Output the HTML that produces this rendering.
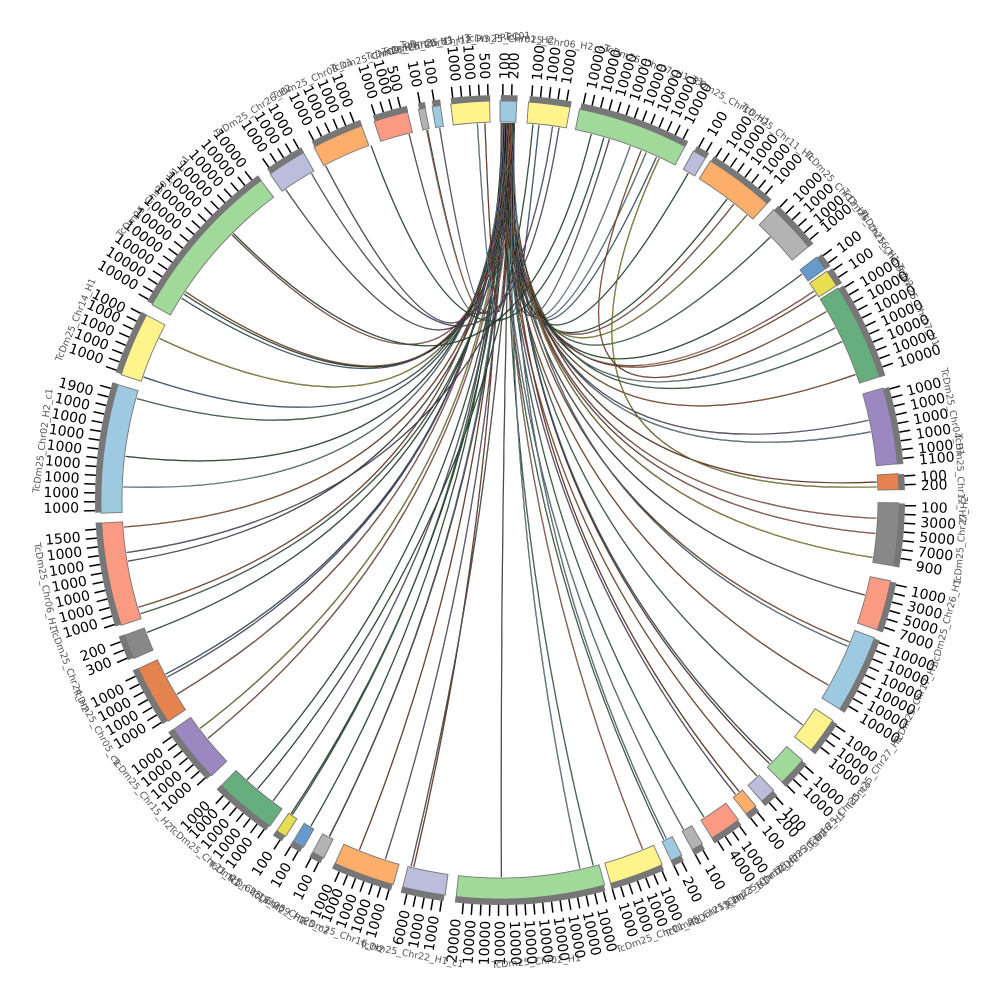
<!DOCTYPE html>
<html><head><meta charset="utf-8">
<style>
html,body{margin:0;padding:0;background:#fff;}
svg{display:block;}
.t{font-family:"DejaVu Sans","Liberation Sans",sans-serif;font-size:14px;fill:#000;}
.n{font-family:"DejaVu Sans","Liberation Sans",sans-serif;font-size:9.5px;fill:#555;}
</style></head>
<body>
<svg id="s" width="1000" height="1000" viewBox="0 0 1000 1000" xmlns="http://www.w3.org/2000/svg">
<g id="links"></g>
<g id="segs"></g>
<g id="ticks" stroke="#000" stroke-width="1.5"></g>
<g class="t">
<text transform="rotate(-89.4 500 500)" x="921" y="505">100</text>
<text transform="rotate(-88.2 500 500)" x="921" y="505">200</text>
<text transform="rotate(-85 500 500)" x="921" y="505">1000</text>
<text transform="rotate(-83 500 500)" x="921" y="505">1000</text>
<text transform="rotate(-81 500 500)" x="921" y="505">1000</text>
<text transform="rotate(-77.5 500 500)" x="921" y="505">10000</text>
<text transform="rotate(-75.5 500 500)" x="921" y="505">10000</text>
<text transform="rotate(-73.5 500 500)" x="921" y="505">10000</text>
<text transform="rotate(-71.5 500 500)" x="921" y="505">10000</text>
<text transform="rotate(-69.5 500 500)" x="921" y="505">10000</text>
<text transform="rotate(-67.5 500 500)" x="921" y="505">10000</text>
<text transform="rotate(-65.5 500 500)" x="921" y="505">10000</text>
<text transform="rotate(-63.5 500 500)" x="921" y="505">10000</text>
<text transform="rotate(-60 500 500)" x="921" y="505">100</text>
<text transform="rotate(-57 500 500)" x="921" y="505">1000</text>
<text transform="rotate(-55 500 500)" x="921" y="505">1000</text>
<text transform="rotate(-53 500 500)" x="921" y="505">1000</text>
<text transform="rotate(-51 500 500)" x="921" y="505">1000</text>
<text transform="rotate(-49 500 500)" x="921" y="505">1000</text>
<text transform="rotate(-45.5 500 500)" x="921" y="505">1000</text>
<text transform="rotate(-43.5 500 500)" x="921" y="505">1000</text>
<text transform="rotate(-41.5 500 500)" x="921" y="505">1000</text>
<text transform="rotate(-40 500 500)" x="921" y="505">1000</text>
<text transform="rotate(-36.5 500 500)" x="921" y="505">100</text>
<text transform="rotate(-33.8 500 500)" x="921" y="505">100</text>
<text transform="rotate(-31 500 500)" x="921" y="505">10000</text>
<text transform="rotate(-29 500 500)" x="921" y="505">10000</text>
<text transform="rotate(-27 500 500)" x="921" y="505">10000</text>
<text transform="rotate(-25 500 500)" x="921" y="505">10000</text>
<text transform="rotate(-23 500 500)" x="921" y="505">10000</text>
<text transform="rotate(-21 500 500)" x="921" y="505">10000</text>
<text transform="rotate(-19 500 500)" x="921" y="505">10000</text>
<text transform="rotate(-15 500 500)" x="921" y="505">1000</text>
<text transform="rotate(-13 500 500)" x="921" y="505">1000</text>
<text transform="rotate(-11 500 500)" x="921" y="505">1000</text>
<text transform="rotate(-9 500 500)" x="921" y="505">1000</text>
<text transform="rotate(-7 500 500)" x="921" y="505">1000</text>
<text transform="rotate(-5.5 500 500)" x="921" y="505">1100</text>
<text transform="rotate(-3.2 500 500)" x="921" y="505">100</text>
<text transform="rotate(-2 500 500)" x="921" y="505">200</text>
<text transform="rotate(1 500 500)" x="921" y="505">100</text>
<text transform="rotate(3 500 500)" x="921" y="505">3000</text>
<text transform="rotate(5 500 500)" x="921" y="505">5000</text>
<text transform="rotate(7 500 500)" x="921" y="505">7000</text>
<text transform="rotate(9 500 500)" x="921" y="505">900</text>
<text transform="rotate(12.5 500 500)" x="921" y="505">1000</text>
<text transform="rotate(14.5 500 500)" x="921" y="505">3000</text>
<text transform="rotate(16.5 500 500)" x="921" y="505">5000</text>
<text transform="rotate(18.5 500 500)" x="921" y="505">7000</text>
<text transform="rotate(21 500 500)" x="921" y="505">10000</text>
<text transform="rotate(23 500 500)" x="921" y="505">10000</text>
<text transform="rotate(25 500 500)" x="921" y="505">10000</text>
<text transform="rotate(27 500 500)" x="921" y="505">10000</text>
<text transform="rotate(29 500 500)" x="921" y="505">10000</text>
<text transform="rotate(31 500 500)" x="921" y="505">10000</text>
<text transform="rotate(34.5 500 500)" x="921" y="505">1000</text>
<text transform="rotate(36.5 500 500)" x="921" y="505">1000</text>
<text transform="rotate(38.3 500 500)" x="921" y="505">1000</text>
<text transform="rotate(41.5 500 500)" x="921" y="505">1000</text>
<text transform="rotate(43.5 500 500)" x="921" y="505">1000</text>
<text transform="rotate(47.3 500 500)" x="921" y="505">100</text>
<text transform="rotate(48.5 500 500)" x="921" y="505">200</text>
<text transform="rotate(51 500 500)" x="921" y="505">100</text>
<text transform="rotate(54.5 500 500)" x="921" y="505">1000</text>
<text transform="rotate(56.5 500 500)" x="921" y="505">4000</text>
<text transform="rotate(60.3 500 500)" x="921" y="505">100</text>
<text transform="rotate(63.7 500 500)" x="921" y="505">200</text>
<text transform="rotate(67 500 500)" x="921" y="505">1000</text>
<text transform="rotate(69 500 500)" x="921" y="505">1000</text>
<text transform="rotate(71 500 500)" x="921" y="505">1000</text>
<text transform="rotate(73 500 500)" x="921" y="505">1000</text>
<text transform="rotate(76 500 500)" x="921" y="505">10000</text>
<text transform="rotate(78 500 500)" x="921" y="505">10000</text>
<text transform="rotate(80 500 500)" x="921" y="505">10000</text>
<text transform="rotate(82 500 500)" x="921" y="505">10000</text>
<text transform="rotate(84 500 500)" x="921" y="505">10000</text>
<text transform="rotate(86 500 500)" x="921" y="505">10000</text>
<text transform="rotate(88 500 500)" x="921" y="505">10000</text>
</g>
<g class="t" text-anchor="end">
<text transform="rotate(270 500 500)" x="79" y="505">10000</text>
<text transform="rotate(272 500 500)" x="79" y="505">10000</text>
<text transform="rotate(274 500 500)" x="79" y="505">10000</text>
<text transform="rotate(276 500 500)" x="79" y="505">20000</text>
<text transform="rotate(279 500 500)" x="79" y="505">1000</text>
<text transform="rotate(281 500 500)" x="79" y="505">1000</text>
<text transform="rotate(283 500 500)" x="79" y="505">6000</text>
<text transform="rotate(286.5 500 500)" x="79" y="505">1000</text>
<text transform="rotate(288.5 500 500)" x="79" y="505">1000</text>
<text transform="rotate(290.5 500 500)" x="79" y="505">1000</text>
<text transform="rotate(292.5 500 500)" x="79" y="505">1000</text>
<text transform="rotate(294 500 500)" x="79" y="505">1000</text>
<text transform="rotate(297 500 500)" x="79" y="505">100</text>
<text transform="rotate(300.3 500 500)" x="79" y="505">100</text>
<text transform="rotate(303.2 500 500)" x="79" y="505">100</text>
<text transform="rotate(306.5 500 500)" x="79" y="505">1000</text>
<text transform="rotate(308.5 500 500)" x="79" y="505">1000</text>
<text transform="rotate(310.5 500 500)" x="79" y="505">1000</text>
<text transform="rotate(312.5 500 500)" x="79" y="505">1000</text>
<text transform="rotate(314 500 500)" x="79" y="505">1000</text>
<text transform="rotate(317.5 500 500)" x="79" y="505">1000</text>
<text transform="rotate(319.5 500 500)" x="79" y="505">1000</text>
<text transform="rotate(321.5 500 500)" x="79" y="505">1000</text>
<text transform="rotate(323.5 500 500)" x="79" y="505">1000</text>
<text transform="rotate(327.5 500 500)" x="79" y="505">1000</text>
<text transform="rotate(329.5 500 500)" x="79" y="505">1000</text>
<text transform="rotate(331.5 500 500)" x="79" y="505">1000</text>
<text transform="rotate(333.5 500 500)" x="79" y="505">1000</text>
<text transform="rotate(337.5 500 500)" x="79" y="505">300</text>
<text transform="rotate(339.5 500 500)" x="79" y="505">200</text>
<text transform="rotate(343 500 500)" x="79" y="505">1000</text>
<text transform="rotate(345 500 500)" x="79" y="505">1000</text>
<text transform="rotate(347 500 500)" x="79" y="505">1000</text>
<text transform="rotate(349 500 500)" x="79" y="505">1000</text>
<text transform="rotate(351 500 500)" x="79" y="505">1000</text>
<text transform="rotate(353 500 500)" x="79" y="505">1000</text>
<text transform="rotate(355 500 500)" x="79" y="505">1500</text>
<text transform="rotate(359 500 500)" x="79" y="505">1000</text>
<text transform="rotate(361 500 500)" x="79" y="505">1000</text>
<text transform="rotate(363 500 500)" x="79" y="505">1000</text>
<text transform="rotate(365 500 500)" x="79" y="505">1000</text>
<text transform="rotate(367 500 500)" x="79" y="505">1000</text>
<text transform="rotate(369 500 500)" x="79" y="505">1000</text>
<text transform="rotate(371 500 500)" x="79" y="505">1000</text>
<text transform="rotate(373 500 500)" x="79" y="505">1000</text>
<text transform="rotate(375 500 500)" x="79" y="505">1900</text>
<text transform="rotate(379.5 500 500)" x="79" y="505">1000</text>
<text transform="rotate(381.5 500 500)" x="79" y="505">1000</text>
<text transform="rotate(383.5 500 500)" x="79" y="505">1000</text>
<text transform="rotate(385.5 500 500)" x="79" y="505">1000</text>
<text transform="rotate(387 500 500)" x="79" y="505">1000</text>
<text transform="rotate(390.5 500 500)" x="79" y="505">10000</text>
<text transform="rotate(392.5 500 500)" x="79" y="505">10000</text>
<text transform="rotate(394.5 500 500)" x="79" y="505">10000</text>
<text transform="rotate(396.5 500 500)" x="79" y="505">10000</text>
<text transform="rotate(398.5 500 500)" x="79" y="505">10000</text>
<text transform="rotate(400.5 500 500)" x="79" y="505">10000</text>
<text transform="rotate(402.5 500 500)" x="79" y="505">10000</text>
<text transform="rotate(404.5 500 500)" x="79" y="505">10000</text>
<text transform="rotate(406.5 500 500)" x="79" y="505">10000</text>
<text transform="rotate(408.5 500 500)" x="79" y="505">10000</text>
<text transform="rotate(410.5 500 500)" x="79" y="505">10000</text>
<text transform="rotate(412.5 500 500)" x="79" y="505">10000</text>
<text transform="rotate(416 500 500)" x="79" y="505">1000</text>
<text transform="rotate(418 500 500)" x="79" y="505">1000</text>
<text transform="rotate(420 500 500)" x="79" y="505">1000</text>
<text transform="rotate(423 500 500)" x="79" y="505">1000</text>
<text transform="rotate(425 500 500)" x="79" y="505">1000</text>
<text transform="rotate(427 500 500)" x="79" y="505">1000</text>
<text transform="rotate(429 500 500)" x="79" y="505">1000</text>
<text transform="rotate(432.5 500 500)" x="79" y="505">1000</text>
<text transform="rotate(434.5 500 500)" x="79" y="505">1000</text>
<text transform="rotate(436 500 500)" x="79" y="505">500</text>
<text transform="rotate(438.7 500 500)" x="79" y="505">100</text>
<text transform="rotate(440.8 500 500)" x="79" y="505">100</text>
<text transform="rotate(444 500 500)" x="79" y="505">1000</text>
<text transform="rotate(446 500 500)" x="79" y="505">1000</text>
<text transform="rotate(448 500 500)" x="79" y="505">500</text>
</g>
<g class="n" text-anchor="middle">
<text transform="rotate(1.2 500 500)" x="500" y="42">TcDm25_Chr01_H2</text>
<text transform="rotate(7.1 500 500)" x="500" y="42">TcDm25_Chr06_H2_c3</text>
<text transform="rotate(19.5 500 500)" x="500" y="42">TcDm25_Chr07_H1_c1</text>
<text transform="rotate(30 500 500)" x="500" y="42">TcDm25_Chr10_H1</text>
<text transform="rotate(37 500 500)" x="500" y="42">TcDm25_Chr11_H1</text>
<text transform="rotate(47 500 500)" x="500" y="42">TcDm25_Chr12_H1</text>
<text transform="rotate(53.5 500 500)" x="500" y="42">TcDm25_Chr16_H1</text>
<text transform="rotate(57 500 500)" x="500" y="42">TcDm25_Chr19_H2</text>
<text transform="rotate(65 500 500)" x="500" y="42">TcDm25_Chr07_H1</text>
<text transform="rotate(79 500 500)" x="500" y="42">TcDm25_Chr04_H1</text>
<text transform="rotate(87.3 500 500)" x="500" y="42">TcDm25_Chr12_H2</text>
<text transform="rotate(-85 500 500)" x="500" y="966">TcDm25_Chr27_H2</text>
<text transform="rotate(-74.7 500 500)" x="500" y="966">TcDm25_Chr26_H1</text>
<text transform="rotate(-64 500 500)" x="500" y="966">TcDm25_Chr17_H1</text>
<text transform="rotate(-54 500 500)" x="500" y="966">TcDm25_Chr27_H1</text>
<text transform="rotate(-47.2 500 500)" x="500" y="966">TcDm25_Chr25_c3</text>
<text transform="rotate(-42.2 500 500)" x="500" y="966">TcDm25_Chr18_H1</text>
<text transform="rotate(-39 500 500)" x="500" y="966">TcDm25_Chr30_H2</text>
<text transform="rotate(-34.4 500 500)" x="500" y="966">TcDm25_Chr10_H2</text>
<text transform="rotate(-29.7 500 500)" x="500" y="966">TcDm25_Chr23_H1</text>
<text transform="rotate(-26.3 500 500)" x="500" y="966">TcDm25_Chr13_H1</text>
<text transform="rotate(-20 500 500)" x="500" y="966">TcDm25_Chr01_H1</text>
<text transform="rotate(-4.5 500 500)" x="500" y="966">TcDm25_Chr02_H1</text>
<text transform="rotate(11 500 500)" x="500" y="966">TcDm25_Chr22_H1_c1</text>
<text transform="rotate(20 500 500)" x="500" y="966">TcDm25_Chr16_H2</text>
<text transform="rotate(27 500 500)" x="500" y="966">TcDm25_Chr25_c2</text>
<text transform="rotate(30.3 500 500)" x="500" y="966">TcDm25_Chr09_H2</text>
<text transform="rotate(33.2 500 500)" x="500" y="966">TcDm25_Chr13_H2</text>
<text transform="rotate(39.7 500 500)" x="500" y="966">TcDm25_Chr21_H1</text>
<text transform="rotate(50.6 500 500)" x="500" y="966">TcDm25_Chr15_H2</text>
<text transform="rotate(60.6 500 500)" x="500" y="966">TcDm25_Chr05_c1</text>
<text transform="rotate(68.4 500 500)" x="500" y="966">TcDm25_Chr24_H2</text>
<text transform="rotate(79.2 500 500)" x="500" y="966">TcDm25_Chr06_H1</text>
<text transform="rotate(-82.6 500 500)" x="500" y="42">TcDm25_Chr02_H2_c1</text>
<text transform="rotate(-67 500 500)" x="500" y="42">TcDm25_Chr14_H1</text>
<text transform="rotate(-48.8 500 500)" x="500" y="42">TcDm25_Chr30_H1_c1</text>
<text transform="rotate(-32.4 500 500)" x="500" y="42">TcDm25_Chr26_H2</text>
<text transform="rotate(-24 500 500)" x="500" y="42">TcDm25_Chr08_c1</text>
<text transform="rotate(-15.9 500 500)" x="500" y="42">TcDm25_Chr09_H1</text>
<text transform="rotate(-11.3 500 500)" x="500" y="42">TcDm25_Chr20_H1</text>
<text transform="rotate(-9.2 500 500)" x="500" y="42">TcDm25_Chr03_H3</text>
<text transform="rotate(-4.3 500 500)" x="500" y="42">TcDm25_Chr12_H3_PRFC01</text>
</g>
</svg>
<script>
(function(){
var NS="http://www.w3.org/2000/svg",cx=500,cy=500;
function P(a,r){var t=a*Math.PI/180;return [cx+r*Math.sin(t),cy-r*Math.cos(t)];}
function f(v){return v.toFixed(1);}
var S=[[0,2.4,"#9ecae1"],[4.1,10.1,"#fff48c"],[11.5,27.6,"#a1d99b"],[29,31,"#bcbddc"],[31.8,42,"#fdae6b"],[43.3,50.6,"#b3b3b3"],[52.5,54.6,"#6699cc"],[55,57.5,"#e8df50"],[57.9,72,"#66ae7d"],[73.7,84.8,"#9b88c0"],[86.2,88.5,"#e5834f"],[90.4,99.5,"#888888"],[101.7,109,"#fb9a82"],[110.2,121.6,"#9ecae1"],[123.5,128.8,"#fff48c"],[130.7,135,"#a1d99b"],[136.7,139,"#bcbddc"],[140.1,141.9,"#fdae6b"],[143.3,147.9,"#fb9a82"],[149.5,151.2,"#b3b3b3"],[152.9,154.6,"#9ecae1"],[156,163.9,"#fff48c"],[164.8,186.3,"#a1d99b"],[187.9,194.1,"#bcbddc"],[195.5,204.4,"#fdae6b"],[206.2,208,"#b3b3b3"],[209.5,211.2,"#6699cc"],[212.5,214,"#e8df50"],[215.2,224.3,"#66ae7d"],[226.3,234.9,"#9b88c0"],[236.3,245,"#e5834f"],[246.6,250.2,"#888888"],[251.7,266.7,"#fb9a82"],[268.1,286.8,"#9ecae1"],[288.3,297.6,"#fff48c"],[299.3,323.2,"#a1d99b"],[324.8,330.5,"#bcbddc"],[332.2,339.7,"#fdae6b"],[341.6,346.6,"#fb9a82"],[348.2,349.2,"#b3b3b3"],[350.2,351.4,"#9ecae1"],[352.9,358.5,"#fff48c"]];
function sector(a0,a1,r0,r1){var p1=P(a0,r1),p2=P(a1,r1),p3=P(a1,r0),p4=P(a0,r0),l=(a1-a0)>180?1:0;
return "M"+f(p1[0])+","+f(p1[1])+"A"+r1+","+r1+" 0 "+l+" 1 "+f(p2[0])+","+f(p2[1])+"L"+f(p3[0])+","+f(p3[1])+"A"+r0+","+r0+" 0 "+l+" 0 "+f(p4[0])+","+f(p4[1])+"Z";}
var segs=document.getElementById("segs"),ticks=document.getElementById("ticks"),links=document.getElementById("links");
S.forEach(function(s){
 var p=document.createElementNS(NS,"path");p.setAttribute("d",sector(s[0],s[1],378,399));p.setAttribute("fill",s[2]);p.setAttribute("stroke","#777");p.setAttribute("stroke-width","0.9");segs.appendChild(p);
 var g=document.createElementNS(NS,"path");g.setAttribute("d",sector(s[0]+0.1,s[1]+0.1,399,405));g.setAttribute("fill","#777");segs.appendChild(g);
 for(var a=s[0]+0.4;a<=s[1];a+=1.25){var q0=P(a,405),q1=P(a,416);var l=document.createElementNS(NS,"line");l.setAttribute("x1",f(q0[0]));l.setAttribute("y1",f(q0[1]));l.setAttribute("x2",f(q1[0]));l.setAttribute("y2",f(q1[1]));ticks.appendChild(l);}
});
var seed=7;function rnd(){seed=(seed*16807)%2147483647;return (seed-1)/2147483646;}
var cols=["#e5834f","#66ae7d","#6699cc","#e8df50","#9b88c0","#fb9a82","#9ecae1","#888888","#c0603a","#4c8a5f"];
function link(a0,a1,col){
 var c=[cx,cy],p0=P(a0,377),p1=P(a1,377);
 var dd="M"+f(p0[0])+","+f(p0[1])+"Q"+f(c[0])+","+f(c[1])+" "+f(p1[0])+","+f(p1[1]);
 var b=document.createElementNS(NS,"path");b.setAttribute("d",dd);b.setAttribute("fill","none");b.setAttribute("stroke","#111");b.setAttribute("stroke-width","1.2");links.appendChild(b);
 var t=document.createElementNS(NS,"path");t.setAttribute("d",dd);t.setAttribute("fill","none");t.setAttribute("stroke",col);t.setAttribute("stroke-width","0.5");links.appendChild(t);
}
for(var i=1;i<S.length;i++){
 var s=S[i];var n=1+Math.floor(rnd()*2);if(s[1]-s[0]>8)n+=1;if(s[1]-s[0]>14)n+=1;
 for(var k=0;k<n;k++){var src=0.2+rnd()*2.0;var tg=s[0]+0.2+rnd()*(s[1]-s[0]-0.4);link(src,tg,cols[Math.floor(rnd()*cols.length)]);}
}
var extra=[[5,220],[8,262],[9,330],[14,315],[16,340],[25,88],[22,60]];
extra.forEach(function(e){link(e[0],e[1],cols[Math.floor(rnd()*cols.length)]);});
})();
</script>
</body></html>
